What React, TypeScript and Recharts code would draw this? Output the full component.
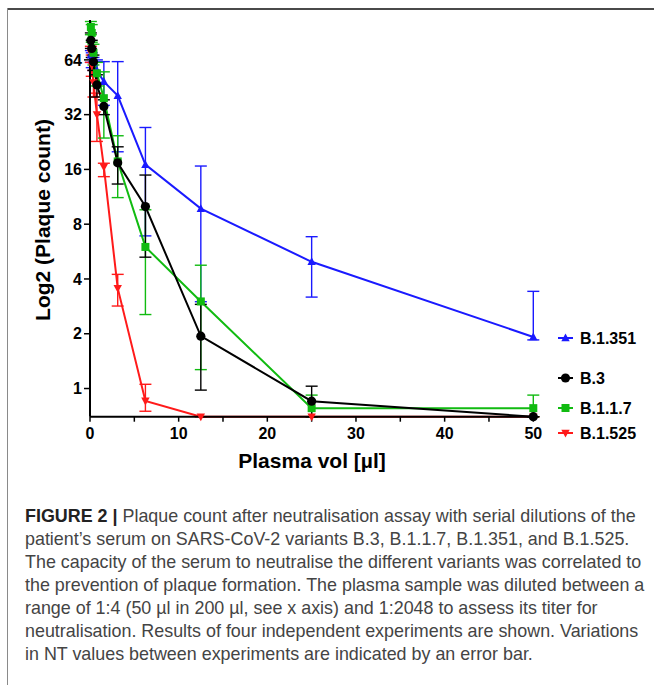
import React from "react"
import { ComposedChart, Line, XAxis, YAxis, ErrorBar } from "recharts"

// plasma volume per well (µl), 1:2048 ... 1:4
const volumes = [0.0977, 0.195, 0.39, 0.78, 1.5625, 3.125, 6.25, 12.5, 25, 50]

// B.1.351
const b1351 = [68, 64, 62, 56, 48.6, 40.7, 17.0, 9.74, 4.97, 1.92]
const b1351Low = [62, 58, 56, 48, 36, 20, 6.9, 3.0, 3.18, 1.85]
const b1351High = [72, 70, 66, 64, 62.6, 62.6, 27.2, 16.7, 6.83, 3.42]

// B.3
const b3 = [82, 74, 62.5, 46.6, 35.5, 17.4, 10.0, 1.94, 0.852, 0.7]
const b3Low = [74, 66, 56, 40, 32, 13.3, 5.27, 0.98, 0.7, 0.7]
const b3High = [90, 82, 68, 53, 38.6, 21.3, 14.9, 2.9, 1.03, 0.7]

// B.1.1.7
const b117 = [97, 90, 70, 54, 39.4, 17.7, 6.0, 3.01, 0.78, 0.78]
const b117Low = [88, 80, 60, 46, 23.8, 11.2, 2.55, 1.27, 0.7, 0.7]
const b117High = [104, 100, 78, 62, 55, 24.5, 9.6, 4.76, 0.92, 0.92]

// B.1.525
const b1525 = [70, 60, 48, 32, 16.5, 3.56, 0.855, 0.7, 0.7, 0.7]
const b1525Low = [62, 52, 40, 22.8, 14.6, 2.84, 0.75, 0.7, 0.7, 0.7]
const b1525High = [76, 68, 56, 42, 17.3, 4.24, 1.055, 0.7, 0.7, 0.7]

const yTicks = [1, 2, 4, 8, 16, 32, 64]
const xTicks = [0, 5, 10, 15, 20, 25, 30, 35, 40, 45, 50]

type Shape = "up" | "down" | "circle" | "square"

const series: {
  key: string
  name: string
  color: string
  shape: Shape
  values: number[]
  low: number[]
  high: number[]
}[] = [
  { key: "b1351", name: "B.1.351", color: "#1a1aff", shape: "up", values: b1351, low: b1351Low, high: b1351High },
  { key: "b1525", name: "B.1.525", color: "#ff1a1a", shape: "down", values: b1525, low: b1525Low, high: b1525High },
  { key: "b117", name: "B.1.1.7", color: "#11bb11", shape: "square", values: b117, low: b117Low, high: b117High },
  { key: "b3", name: "B.3", color: "#000000", shape: "circle", values: b3, low: b3Low, high: b3High },
]

const legendOrder = ["b1351", "b3", "b117", "b1525"]
const legendTops = [338, 378, 408, 433]

const rows = volumes.map((vol, i) => {
  const row: Record<string, any> = { vol }
  series.forEach((s) => {
    row[s.key] = s.values[i]
    row[s.key + "Err"] = [s.values[i] - s.low[i], s.high[i] - s.values[i]]
  })
  return row
})

function Marker({ cx, cy, shape, color }: { cx: number; cy: number; shape: Shape; color: string }) {
  if (cx == null || cy == null || isNaN(cx) || isNaN(cy)) return null
  if (shape === "up")
    return <polygon points={`${cx},${cy - 4.5} ${cx + 4.2},${cy + 3.3} ${cx - 4.2},${cy + 3.3}`} fill={color} />
  if (shape === "down")
    return <polygon points={`${cx},${cy + 4.5} ${cx + 4.2},${cy - 3.3} ${cx - 4.2},${cy - 3.3}`} fill={color} />
  if (shape === "square") return <rect x={cx - 4} y={cy - 4} width={8} height={8} fill={color} />
  return <circle cx={cx} cy={cy} r={4.6} fill={color} />
}

const font = '"Liberation Sans", Arial, sans-serif'
const tickStyle = { fontSize: 16, fontWeight: 700, fill: "#000", fontFamily: font }

const captionLines = [
  "Plaque count after neutralisation assay with serial dilutions of the",
  "patient’s serum on SARS-CoV-2 variants B.3, B.1.1.7, B.1.351, and B.1.525.",
  "The capacity of the serum to neutralise the different variants was correlated to",
  "the prevention of plaque formation. The plasma sample was diluted between a",
  "range of 1:4 (50 µl in 200 µl, see x axis) and 1:2048 to assess its titer for",
  "neutralisation. Results of four independent experiments are shown. Variations",
  "in NT values between experiments are indicated by an error bar.",
]

export default function App() {
  return (
    <div style={{ position: "relative", width: 654, height: 685, background: "#fff", overflow: "hidden" }}>
      <style>{"body{margin:0}"}</style>
      {/* frame */}
      <div style={{ position: "absolute", left: 7, top: 8, width: 647, height: 2, background: "#4a4a4a" }} />
      <div style={{ position: "absolute", left: 7, top: 8, width: 1, height: 677, background: "#8a8a8a" }} />

      <div style={{ position: "absolute", left: 0, top: 0 }}>
        <ComposedChart width={654} height={490} data={rows} margin={{ top: 20, right: 120.7, bottom: 43.3, left: 30 }}>
          <XAxis
            dataKey="vol"
            type="number"
            domain={[0, 50]}
            ticks={xTicks}
            tickFormatter={(v: number) => (v % 10 === 0 ? String(v) : "")}
            height={30}
            tick={tickStyle}
            tickSize={5}
            tickMargin={6}
            axisLine={{ stroke: "#000", strokeWidth: 2 }}
            tickLine={{ stroke: "#000", strokeWidth: 1.5 }}
            interval={0}
          />
          <YAxis
            type="number"
            scale="log"
            domain={[0.7, 106]}
            ticks={yTicks}
            width={60}
            tick={tickStyle}
            tickSize={6}
            tickMargin={2}
            axisLine={{ stroke: "#000", strokeWidth: 2 }}
            tickLine={{ stroke: "#000", strokeWidth: 1.5 }}
            interval={0}
          />
          {series.map((s) => (
            <Line
              key={s.key}
              type="linear"
              dataKey={s.key}
              stroke={s.color}
              strokeWidth={2}
              isAnimationActive={false}
              activeDot={false}
              dot={(p: any) => <Marker key={s.key + p.index} cx={p.cx} cy={p.cy} shape={s.shape} color={s.color} />}
            >
              <ErrorBar
                dataKey={s.key + "Err"}
                direction="y"
                width={6}
                strokeWidth={1.4}
                stroke={s.color}
                isAnimationActive={false}
              />
            </Line>
          ))}
        </ComposedChart>
      </div>

      {/* axis titles */}
      <div
        style={{
          position: "absolute",
          left: 43,
          top: 220,
          transform: "translate(-50%, -50%) rotate(-90deg)",
          whiteSpace: "nowrap",
          fontFamily: font,
          fontWeight: 700,
          fontSize: 21,
          color: "#000",
        }}
      >
        Log2 (Plaque count)
      </div>
      <div
        style={{
          position: "absolute",
          left: 312,
          top: 461,
          transform: "translate(-50%, -50%)",
          whiteSpace: "nowrap",
          fontFamily: font,
          fontWeight: 700,
          fontSize: 21,
          color: "#000",
        }}
      >
        Plasma vol [µl]
      </div>

      {/* legend */}
      <svg style={{ position: "absolute", left: 0, top: 0 }} width={654} height={490}>
        {legendOrder.map((k, i) => {
          const s = series.find((x) => x.key === k)!
          const y = legendTops[i]
          return (
            <g key={k}>
              <line x1={558} x2={573} y1={y} y2={y} stroke={s.color} strokeWidth={2} />
              <Marker cx={565.5} cy={y} shape={s.shape} color={s.color} />
              <text x={580} y={y} dy="0.36em" fontFamily={font} fontWeight={700} fontSize={16} fill="#000">
                {s.name}
              </text>
            </g>
          )
        })}
      </svg>

      {/* caption */}
      <div
        style={{
          position: "absolute",
          left: 25,
          top: 504.5,
          fontFamily: font,
          fontSize: 17.9,
          lineHeight: "23px",
          color: "#444",
          whiteSpace: "nowrap",
        }}
      >
        {captionLines.map((line, i) => (
          <div key={i}>
            {i === 0 && <b style={{ color: "#222" }}>FIGURE 2 | </b>}
            {line}
          </div>
        ))}
      </div>
    </div>
  )
}
